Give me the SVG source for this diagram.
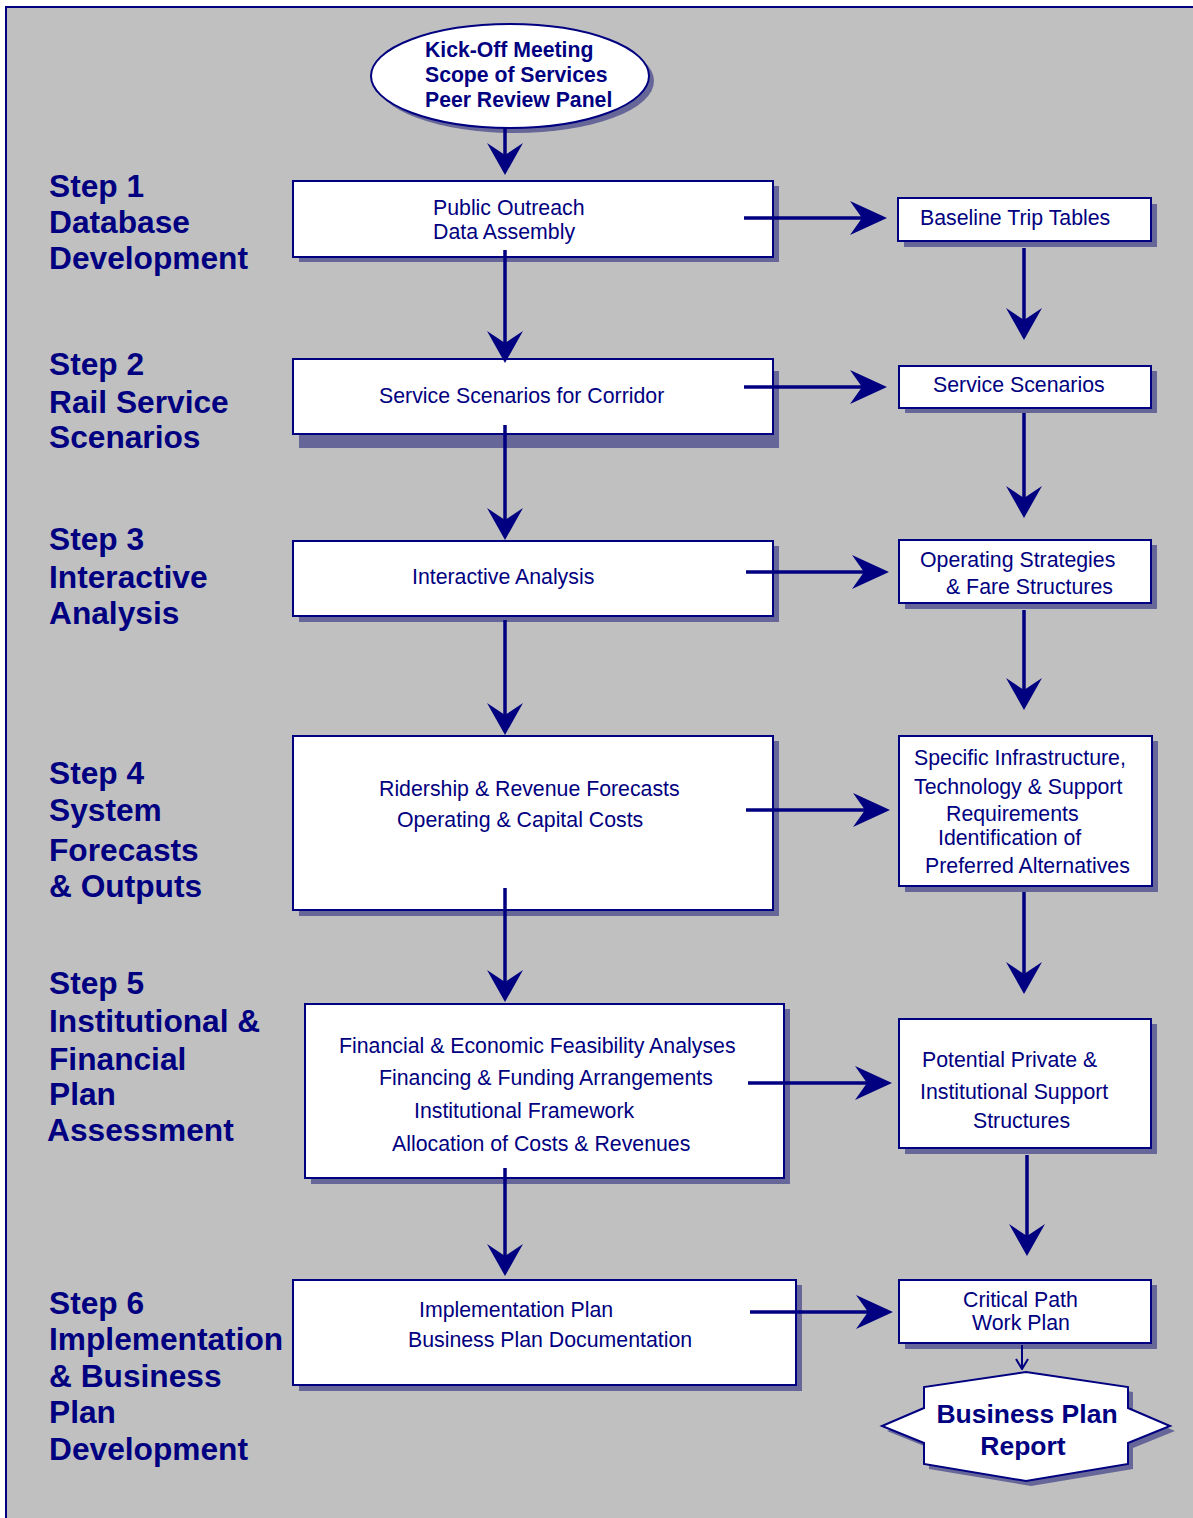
<svg xmlns="http://www.w3.org/2000/svg" width="1193" height="1518" viewBox="0 0 1193 1518">
<defs>
<style>
.box{fill:#fff;stroke:#000080;stroke-width:2}
.sh{fill:#666699}
.t{font-family:"Liberation Sans",Arial,sans-serif;font-size:21.3px;fill:#000080}
.tb{font-family:"Liberation Sans",Arial,sans-serif;font-size:21.2px;font-weight:bold;fill:#000080}
.step{font-family:"Liberation Sans",Arial,sans-serif;font-size:31.7px;font-weight:bold;fill:#000080}
.c{stroke:#000080;stroke-width:3.5;fill:none}
</style>
<marker id="av" viewBox="0 -18 32 36" refX="13" refY="0" markerWidth="32" markerHeight="36" markerUnits="userSpaceOnUse" orient="auto"><path d="M0,-18 L32,0 L0,18 L12,0 z" fill="#000080"/></marker>
<marker id="ah" viewBox="0 -17 37 34" refX="13" refY="0" markerWidth="37" markerHeight="34" markerUnits="userSpaceOnUse" orient="auto"><path d="M0,-17 L37,0 L0,17 L12,0 z" fill="#000080"/></marker>
<marker id="as" viewBox="-1 -7 12 14" refX="10" refY="0" markerWidth="12" markerHeight="14" markerUnits="userSpaceOnUse" orient="auto"><path d="M0,-6 L10,0 L0,6" fill="none" stroke="#000080" stroke-width="2"/></marker>
</defs>
<rect x="0" y="0" width="1193" height="1518" fill="#fff"/>
<rect x="6" y="7" width="1190" height="1515" fill="#C0C0C0"/>
<path d="M6,1518 V7 H1193" fill="none" stroke="#000080" stroke-width="2"/>

<g id="labels">
<text class="step" x="49" y="197">Step 1</text>
<text class="step" x="49" y="233">Database</text>
<text class="step" x="49" y="269">Development</text>
<text class="step" x="49" y="375">Step 2</text>
<text class="step" x="49" y="413">Rail Service</text>
<text class="step" x="49" y="448">Scenarios</text>
<text class="step" x="49" y="550">Step 3</text>
<text class="step" x="49" y="588">Interactive</text>
<text class="step" x="49" y="624">Analysis</text>
<text class="step" x="49" y="784">Step 4</text>
<text class="step" x="49" y="821">System</text>
<text class="step" x="49" y="861">Forecasts</text>
<text class="step" x="49" y="897">&amp; Outputs</text>
<text class="step" x="49" y="994">Step 5</text>
<text class="step" x="49" y="1032">Institutional &amp;</text>
<text class="step" x="49" y="1070">Financial</text>
<text class="step" x="49" y="1105">Plan</text>
<text class="step" x="47" y="1141">Assessment</text>
<text class="step" x="49" y="1314">Step 6</text>
<text class="step" x="49" y="1350">Implementation</text>
<text class="step" x="49" y="1387">&amp; Business</text>
<text class="step" x="49" y="1423">Plan</text>
<text class="step" x="49" y="1460">Development</text>
</g>

<g id="kickoff">
<ellipse cx="515" cy="81" rx="139" ry="52" class="sh"/>
<ellipse cx="510" cy="76" rx="139" ry="52" class="box"/>
<text class="tb" x="425" y="57">Kick-Off Meeting</text>
<text class="tb" x="425" y="82">Scope of Services</text>
<text class="tb" x="425" y="107">Peer Review Panel</text>
</g>

<g id="step1">
<rect x="299" y="186" width="480" height="76" class="sh"/>
<rect x="293" y="181" width="480" height="76" class="box"/>
<text class="t" x="433" y="215">Public Outreach</text>
<text class="t" x="433" y="239">Data Assembly</text>
</g>
<g id="baseline">
<rect x="904" y="204" width="253" height="43" class="sh"/>
<rect x="898" y="198" width="253" height="43" class="box"/>
<text class="t" x="920" y="225">Baseline Trip Tables</text>
</g>

<g id="step2">
<rect x="299" y="371" width="480" height="77" class="sh"/>
<rect x="293" y="359" width="480" height="75" class="box"/>
<text class="t" x="379" y="403">Service Scenarios for Corridor</text>
</g>
<g id="scenarios">
<rect x="905" y="371" width="252" height="42" class="sh"/>
<rect x="899" y="366" width="252" height="42" class="box"/>
<text class="t" x="933" y="392">Service Scenarios</text>
</g>

<g id="step3">
<rect x="299" y="546" width="480" height="76" class="sh"/>
<rect x="293" y="541" width="480" height="75" class="box"/>
<text class="t" x="412" y="584">Interactive Analysis</text>
</g>
<g id="operating">
<rect x="905" y="545" width="252" height="64" class="sh"/>
<rect x="899" y="540" width="252" height="63" class="box"/>
<text class="t" x="920" y="567">Operating Strategies</text>
<text class="t" x="946" y="594">&amp; Fare Structures</text>
</g>

<g id="step4">
<rect x="299" y="741" width="480" height="175" class="sh"/>
<rect x="293" y="736" width="480" height="174" class="box"/>
<text class="t" x="379" y="796">Ridership &amp; Revenue Forecasts</text>
<text class="t" x="397" y="827">Operating &amp; Capital Costs</text>
</g>
<g id="infrastructure">
<rect x="905" y="741" width="253" height="151" class="sh"/>
<rect x="899" y="736" width="253" height="150" class="box"/>
<text class="t" x="914" y="765">Specific Infrastructure,</text>
<text class="t" x="914" y="794">Technology &amp; Support</text>
<text class="t" x="946" y="821">Requirements</text>
<text class="t" x="938" y="845">Identification of</text>
<text class="t" x="925" y="873">Preferred Alternatives</text>
</g>

<g id="step5">
<rect x="311" y="1009" width="479" height="175" class="sh"/>
<rect x="305" y="1004" width="479" height="174" class="box"/>
<text class="t" x="339" y="1053">Financial &amp; Economic Feasibility Analyses</text>
<text class="t" x="379" y="1085">Financing &amp; Funding Arrangements</text>
<text class="t" x="414" y="1118">Institutional Framework</text>
<text class="t" x="392" y="1151">Allocation of Costs &amp; Revenues</text>
</g>
<g id="private">
<rect x="905" y="1024" width="252" height="130" class="sh"/>
<rect x="899" y="1019" width="252" height="129" class="box"/>
<text class="t" x="922" y="1067">Potential Private &amp;</text>
<text class="t" x="920" y="1099">Institutional Support</text>
<text class="t" x="973" y="1128">Structures</text>
</g>

<g id="step6">
<rect x="299" y="1285" width="503" height="106" class="sh"/>
<rect x="293" y="1280" width="503" height="105" class="box"/>
<text class="t" x="419" y="1317">Implementation Plan</text>
<text class="t" x="408" y="1347">Business Plan Documentation</text>
</g>
<g id="critical">
<rect x="905" y="1285" width="252" height="64" class="sh"/>
<rect x="899" y="1280" width="252" height="63" class="box"/>
<text class="t" x="963" y="1307">Critical Path</text>
<text class="t" x="972" y="1330">Work Plan</text>
</g>

<g id="report">
<polygon transform="translate(5,5)" class="sh" points="1026,1372 1128,1387 1128,1408 1170,1426 1128,1443 1128,1464 1026,1481 924,1464 924,1443 882,1426 924,1408 924,1387"/>
<polygon class="box" points="1026,1372 1128,1387 1128,1408 1170,1426 1128,1443 1128,1464 1026,1481 924,1464 924,1443 882,1426 924,1408 924,1387"/>
<text class="tb" style="font-size:26.5px" x="1027" y="1423" text-anchor="middle">Business Plan</text>
<text class="tb" style="font-size:26.5px" x="1023" y="1455" text-anchor="middle">Report</text>
</g>

<g id="connectors">
<line class="c" x1="505" y1="128" x2="505" y2="156" marker-end="url(#av)"/>
<line class="c" x1="505" y1="250" x2="505" y2="344" marker-end="url(#av)"/>
<line class="c" x1="505" y1="425" x2="505" y2="521" marker-end="url(#av)"/>
<line class="c" x1="505" y1="620" x2="505" y2="716" marker-end="url(#av)"/>
<line class="c" x1="505" y1="888" x2="505" y2="983" marker-end="url(#av)"/>
<line class="c" x1="505" y1="1168" x2="505" y2="1257" marker-end="url(#av)"/>
<line class="c" x1="1024" y1="248" x2="1024" y2="321" marker-end="url(#av)"/>
<line class="c" x1="1024" y1="413" x2="1024" y2="499" marker-end="url(#av)"/>
<line class="c" x1="1024" y1="610" x2="1024" y2="691" marker-end="url(#av)"/>
<line class="c" x1="1024" y1="892" x2="1024" y2="975" marker-end="url(#av)"/>
<line class="c" x1="1027" y1="1155" x2="1027" y2="1237" marker-end="url(#av)"/>
<line class="c" x1="744" y1="218" x2="863" y2="218" marker-end="url(#ah)"/>
<line class="c" x1="744" y1="387" x2="863" y2="387" marker-end="url(#ah)"/>
<line class="c" x1="746" y1="572" x2="865" y2="572" marker-end="url(#ah)"/>
<line class="c" x1="746" y1="810" x2="866" y2="810" marker-end="url(#ah)"/>
<line class="c" x1="748" y1="1083" x2="868" y2="1083" marker-end="url(#ah)"/>
<line class="c" x1="750" y1="1312" x2="869" y2="1312" marker-end="url(#ah)"/>
<line x1="1022" y1="1345" x2="1022" y2="1369" stroke="#000080" stroke-width="2" marker-end="url(#as)"/>
</g>
</svg>
